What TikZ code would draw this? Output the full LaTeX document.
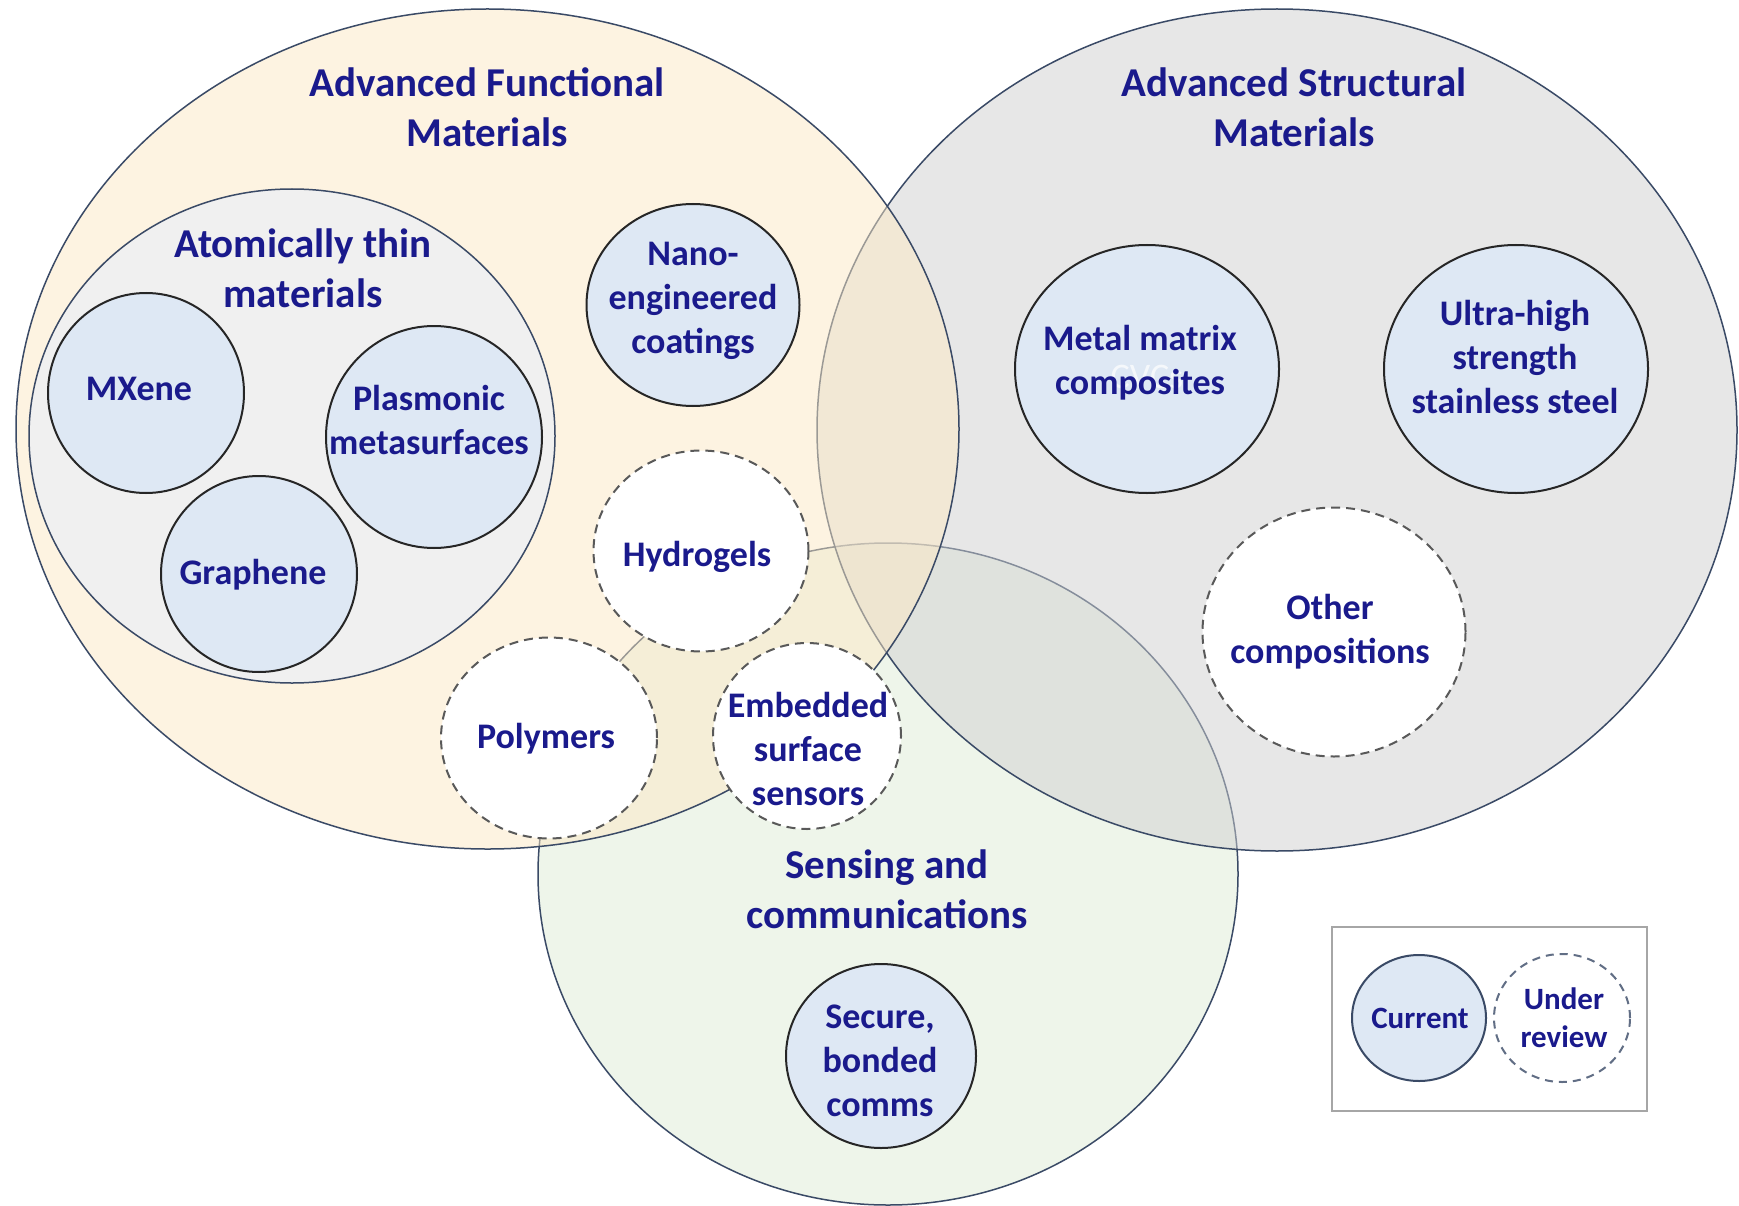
\documentclass[tikz,border=0pt]{standalone}
\usepackage{fontspec}
\setmainfont{Carlito}
\usepackage{tikz}
\usepackage{xcolor}
\usetikzlibrary{shapes.geometric}

\definecolor{navy}{RGB}{26,26,140}
\definecolor{rim}{RGB}{58,74,102}
\definecolor{cream}{RGB}{253,233,197}
\definecolor{sage}{RGB}{238,245,234}
\definecolor{steel}{RGB}{209,209,209}
\definecolor{atomgray}{RGB}{240,240,240}
\definecolor{paleblue}{RGB}{222,232,244}

\begin{document}
\begin{tikzpicture}[x=1pt,y=-1pt,
    area/.style={ellipse,draw=rim,line width=1.5pt,inner sep=0pt},
    blueitem/.style={ellipse,draw=black!85,line width=2pt,fill=paleblue,inner sep=0pt},
    dashitem/.style={ellipse,draw=black!65,line width=2pt,dash pattern=on 9pt off 6pt,fill=white,inner sep=0pt},
    itemtext/.style={text=navy,align=center,inner sep=0pt,font=\bfseries\fontsize{36}{44}\selectfont},
    heading/.style={text=navy,align=center,inner sep=0pt,font=\bfseries\fontsize{41}{50}\selectfont},
    keytext/.style={text=navy,align=center,inner sep=0pt,font=\bfseries\fontsize{31}{38}\selectfont}]
  \useasboundingbox (0,0) rectangle (1739,1206);
  \fill[white] (0,0) rectangle (1739,1206);

  \node[area,fill=sage,minimum width=700pt,minimum height=662pt] (sensing) at (888,874) {};
  \node[area,fill=steel,fill opacity=0.5,minimum width=920pt,minimum height=842pt] (structural) at (1277,430) {};
  \node[area,fill=cream,fill opacity=0.5,minimum width=943pt,minimum height=840pt] (functional) at (487.5,429) {};
  \node[area,fill=atomgray,minimum width=526pt,minimum height=494pt] (atomic) at (292,436) {};

  \node[blueitem,minimum width=196pt,minimum height=200pt] (mxene) at (146,393) {};
  \node[blueitem,minimum width=216pt,minimum height=222pt] (plasmonic) at (434,437) {};
  \node[blueitem,minimum width=196pt,minimum height=196pt] (graphene) at (259,574) {};
  \node[blueitem,minimum width=213pt,minimum height=202pt] (nano) at (693,305) {};
  \node[blueitem,minimum width=264pt,minimum height=248pt] (metal) at (1147,369) {};
  \node[blueitem,minimum width=264pt,minimum height=248pt] (steelnode) at (1516,369) {};
  \node[blueitem,minimum width=190pt,minimum height=184pt] (secure) at (881,1056) {};
  \node[dashitem,minimum width=215pt,minimum height=201pt] (hydrogels) at (701,551) {};
  \node[dashitem,minimum width=216pt,minimum height=201pt] (polymers) at (549,738) {};
  \node[dashitem,minimum width=188pt,minimum height=186pt] (embedded) at (807,736) {};
  \node[dashitem,minimum width=263pt,minimum height=249pt] (other) at (1334,632) {};

  \node[heading] (functional-t) at (487,107) {Advanced Functional\\Materials};
  \node[heading] (structural-t) at (1294,107) {Advanced Structural\\Materials};
  \node[heading] (atomic-t) at (303,268) {Atomically thin\\materials};
  \node[heading] (sensing-t) at (887,889) {Sensing and\\communications};

  \node[itemtext] (mxene-t) at (139,389) {MXene};
  \node[itemtext] (plasmonic-t) at (429,420) {Plasmonic\\metasurfaces};
  \node[itemtext] (graphene-t) at (253,575) {Graphene};
  \node[itemtext] (nano-t) at (693,301) {Nano-\\engineered\\coatings};
  \node[itemtext,text=white,text opacity=0.7,font=\fontsize{36}{44}\selectfont] (cvcs-t) at (1147,377) {CVCs};
  \node[itemtext] (metal-t) at (1140,363) {Metal matrix\\composites};
  \node[itemtext] (steelnode-t) at (1515,357) {Ultra-high\\strength\\stainless steel};
  \node[itemtext] (secure-t) at (880,1061) {Secure,\\bonded\\comms};
  \node[itemtext] (hydrogels-t) at (697,557) {Hydrogels};
  \node[itemtext] (polymers-t) at (546,739) {Polymers};
  \node[itemtext] (embedded-t) at (808,749) {Embedded\\surface\\sensors};
  \node[itemtext] (other-t) at (1330,632) {Other\\compositions};

  \node[draw=black!35,line width=2.5pt,fill=white,minimum width=315pt,minimum height=184pt,inner sep=0pt] (legend) at (1489.5,1019) {};
  \node[ellipse,draw=rim,line width=2pt,fill=paleblue,minimum width=134pt,minimum height=126pt,inner sep=0pt] (current) at (1419,1018) {};
  \node[ellipse,draw=rim!80,line width=2pt,dash pattern=on 8pt off 6pt,fill=white,minimum width=136pt,minimum height=128pt,inner sep=0pt] (review) at (1562,1018) {};
  \node[keytext] (current-t) at (1420,1018) {Current};
  \node[keytext] (review-t) at (1564,1018) {Under\\review};
\end{tikzpicture}
\end{document}
